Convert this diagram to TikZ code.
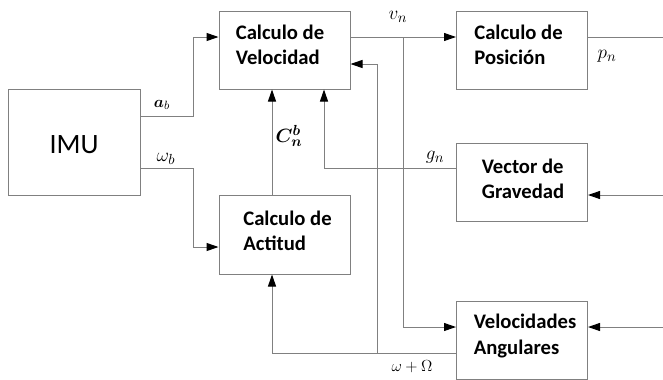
\documentclass[tikz,border=0pt]{standalone}
\usepackage{fontspec}
\setmainfont{Carlito}
\usepackage{amsmath}
\usepackage{bm}
\usetikzlibrary{arrows.meta}
\definecolor{linegray}{HTML}{808080}
\begin{document}
\begin{tikzpicture}[x=0.75pt,y=-0.75pt,
  box/.style={draw=linegray, line width=0.75pt, inner sep=0pt, minimum width=98.25pt, minimum height=58.5pt},
  boxtext/.style={align=left, inner sep=0pt, font=\fontsize{15.5}{18.8}\selectfont\bfseries},
  lbl/.style={inner sep=0pt, font=\fontsize{15}{18}\selectfont},
  conn/.style={draw=linegray, line width=0.75pt},
  arr/.style={conn, -{Triangle[length=9pt,width=6pt,color=black,fill=black]}}
]
\useasboundingbox (0,0) rectangle (663,379);
% boxes
\node[box, minimum width=99pt, minimum height=79.5pt] (IMU) at (74,142) {};
\node[inner sep=0pt, font=\fontsize{21}{24}\selectfont] (tIMU) at (74,145) {IMU};
\node[box] (V) at (284.5,50) {};
\node[box] (P) at (522,50) {};
\node[box] (G) at (522,182) {};
\node[box, minimum height=59.25pt] (A) at (284.5,234.5) {};
\node[box] (W) at (522,340) {};
% box texts
\node[boxtext] (tV) at (280,44.5) {Calculo de\\Velocidad};
\node[boxtext] (tP) at (518.5,44.5) {Calculo de\\Posición};
\node[boxtext] (tG) at (523,179) {Vector de\\Gravedad};
\node[boxtext] (tA) at (287.5,231) {Calculo de\\Actitud};
\node[boxtext] (tW) at (525,336) {Velocidades\\Angulares};
% helper coordinates
\coordinate (h1) at (193,116);
\coordinate (h2) at (193,37);
\coordinate (h3) at (193,168);
\coordinate (h4) at (193,247);
\coordinate (h5) at (272,150);
\coordinate (h6) at (324,168);
\coordinate (h7) at (403,37);
\coordinate (h8) at (403,327);
\coordinate (h9) at (272,353);
\coordinate (h10) at (377,353);
\coordinate (h11) at (377,64);
\coordinate (pe) at (663,37);
\coordinate (ge) at (663,195);
\coordinate (we) at (663,327);
% connectors
\draw[arr] (IMU.east |- h1) -- (h1) -- (h2) -- (V.west |- h2);
\draw[arr] (IMU.east |- h3) -- (h3) -- (h4) -- (A.west |- h4);
\draw[arr] (A.north -| h5) -- (V.south -| h5);
\draw[arr] (G.west |- h6) -- (h6) -- (V.south -| h6);
\draw[arr] (V.east |- h2) -- (P.west |- h2);
\draw[arr] (h7) -- (h8) -- (W.west |- h8);
\draw[arr] (W.west |- h9) -- (h9) -- (A.south -| h9);
\draw[arr] (h10) -- (h11) -- (V.east |- h11);
\draw[conn] (P.east |- pe) -- (pe);
\draw[arr] (ge) -- (G.east |- ge);
\draw[arr] (we) -- (W.east |- we);
% labels
\node[lbl, font=\fontsize{13}{16}\selectfont] (lab) at (162,105) {$\bm{a}_b$};
\node[lbl] (lwb) at (166,159) {$\omega_b$};
\node[lbl] (lC) at (289,136) {$\bm{C_n^b}$};
\node[lbl] (lvn) at (398,17) {$v_n$};
\node[lbl] (lpn) at (607,56) {$p_n$};
\node[lbl] (lgn) at (435,157) {$g_n$};
\node[lbl, font=\fontsize{12}{14}\selectfont] (lom) at (412,367) {$\omega+\Omega$};
\end{tikzpicture}
\end{document}
